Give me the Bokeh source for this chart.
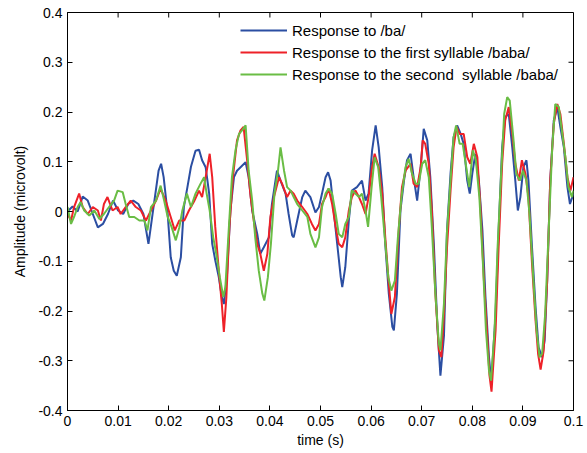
from bokeh.plotting import figure
from bokeh.models import (Range1d, FixedTicker, CustomJSTickFormatter,
                          Legend, LegendItem)
from bokeh.embed import file_html
from bokeh.resources import INLINE

# ---------------- data ----------------
x_ticks = [0, 0.01, 0.02, 0.03, 0.04, 0.05, 0.06, 0.07, 0.08, 0.09, 0.1]
y_ticks = [-0.4, -0.3, -0.2, -0.1, 0, 0.1, 0.2, 0.3, 0.4]
x_lim = (0, 0.1)
y_lim = (-0.4, 0.4)

series_names = ["Response to /ba/",
                "Response to the first syllable /baba/",
                "Response to the second  syllable /baba/"]

t_ba = [0, 0.001, 0.002, 0.003, 0.004, 0.005, 0.006, 0.007, 0.008, 0.009, 0.010,
        0.011, 0.012, 0.013, 0.014, 0.015, 0.016, 0.017, 0.018, 0.0185, 0.019,
        0.0198, 0.0204, 0.021, 0.0216, 0.0224, 0.023, 0.0237, 0.0244, 0.0253,
        0.026, 0.0266, 0.0273, 0.028, 0.0286, 0.0292, 0.0299, 0.0305, 0.0309,
        0.0315, 0.0322, 0.0329, 0.0335, 0.0342, 0.0352, 0.0358, 0.0365, 0.0375,
        0.0381, 0.0388, 0.0398, 0.0404, 0.0414, 0.0421, 0.0431, 0.0437, 0.0444,
        0.0447, 0.0454, 0.0464, 0.047, 0.048, 0.049, 0.0497, 0.0503, 0.051,
        0.0515, 0.052, 0.0526, 0.0533, 0.054, 0.0543, 0.0549, 0.0556, 0.0562,
        0.0572, 0.0582, 0.0589, 0.0595, 0.0602, 0.0609, 0.0615, 0.0622, 0.0628,
        0.0635, 0.0642, 0.0645, 0.0651, 0.0658, 0.0665, 0.0671, 0.0678, 0.0684,
        0.0691, 0.0698, 0.0704, 0.0711, 0.0717, 0.0724, 0.0731, 0.0737, 0.0744,
        0.075, 0.0757, 0.0763, 0.077, 0.0777, 0.0783, 0.079, 0.0795, 0.08,
        0.0806, 0.0813, 0.082, 0.0826, 0.0833, 0.0836, 0.0839, 0.0846, 0.0852,
        0.0859, 0.0865, 0.0872, 0.0879, 0.0885, 0.089, 0.0895, 0.0901, 0.0907,
        0.0911, 0.0918, 0.0925, 0.0931, 0.0938, 0.0943, 0.0948, 0.0954, 0.0961,
        0.0968, 0.0974, 0.0981, 0.0988, 0.0993, 0.1]
v_ba = [0.0, 0.01, 0.0, 0.03, 0.022, -0.005, -0.032, -0.025, -0.005, 0.022, 0.002,
        -0.005, 0.015, 0.022, 0.015, -0.005, -0.065, 0.009, 0.082, 0.096, 0.069,
        -0.005, -0.092, -0.119, -0.129, -0.092, 0.009, 0.049, 0.09, 0.122,
        0.124, 0.103, 0.089, 0.036, -0.065, -0.098, -0.132, -0.172, -0.186,
        -0.132, 0.002, 0.069, 0.082, 0.089, 0.099, 0.069, 0.002, -0.045,
        -0.085, -0.072, -0.052, 0.015, 0.082, 0.062, 0.036, -0.005, -0.048,
        -0.052, -0.018, 0.029, 0.042, 0.029, -0.002, 0.009, 0.036, 0.069,
        0.079, 0.062, 0.002, -0.065, -0.132, -0.152, -0.112, -0.018, 0.042,
        0.049, 0.062, 0.022, 0.036, 0.123, 0.173, 0.129, 0.049, -0.065,
        -0.165, -0.232, -0.239, -0.165, 0.002, 0.062, 0.103, 0.116, 0.069,
        0.022, 0.089, 0.166, 0.143, 0.069, -0.065, -0.232, -0.33, -0.25,
        -0.038, 0.076, 0.149, 0.173, 0.156, 0.136, 0.062, 0.036, 0.076,
        0.116, 0.062, -0.038, -0.172, -0.293, -0.326, -0.32, -0.206, -0.038,
        0.129, 0.19, 0.196, 0.129, 0.062, 0.002, 0.029, 0.089, 0.103,
        0.062, -0.072, -0.192, -0.273, -0.293, -0.259, -0.139, 0.062, 0.183,
        0.21, 0.17, 0.129, 0.049, 0.015, 0.036]

t_first = [0, 0.0007, 0.0013, 0.0023, 0.003, 0.004, 0.005, 0.006, 0.0066, 0.0072,
           0.0079, 0.0089, 0.0099, 0.0105, 0.0115, 0.0125, 0.0135, 0.0145, 0.0155,
           0.0165, 0.0175, 0.0184, 0.0194, 0.0204, 0.0212, 0.0221, 0.0231, 0.024,
           0.025, 0.026, 0.0266, 0.0273, 0.0281, 0.0286, 0.0292, 0.0299, 0.0305,
           0.0309, 0.0314, 0.032, 0.0327, 0.0335, 0.0342, 0.0348, 0.0355, 0.0362,
           0.0368, 0.0375, 0.0381, 0.0388, 0.0395, 0.0401, 0.0408, 0.0418, 0.0424,
           0.0434, 0.0441, 0.0447, 0.0454, 0.0464, 0.0474, 0.0483, 0.049, 0.0497,
           0.0503, 0.051, 0.0516, 0.0523, 0.053, 0.0536, 0.0543, 0.0549, 0.0556,
           0.0562, 0.0569, 0.0576, 0.0582, 0.0589, 0.0595, 0.0602, 0.0607, 0.0615,
           0.0622, 0.0628, 0.0635, 0.064, 0.0647, 0.0655, 0.0661, 0.0668, 0.0678,
           0.0684, 0.0691, 0.0698, 0.0702, 0.0707, 0.0714, 0.072, 0.0727, 0.0734,
           0.0739, 0.0744, 0.075, 0.0757, 0.0763, 0.0769, 0.0775, 0.0783, 0.079,
           0.0796, 0.0803, 0.081, 0.0816, 0.0823, 0.083, 0.0834, 0.0838, 0.0842,
           0.0846, 0.0852, 0.0859, 0.0865, 0.0872, 0.0879, 0.0885, 0.0892, 0.0898,
           0.0905, 0.0911, 0.0918, 0.0925, 0.093, 0.0935, 0.0941, 0.0948, 0.0954,
           0.0961, 0.0968, 0.0974, 0.0981, 0.0988, 0.0994, 0.1]
v_first = [-0.005, -0.018, 0.009, 0.036, 0.009, -0.005, 0.009, 0.002, -0.018, 0.015,
           0.029, 0.002, 0.009, -0.005, 0.009, 0.022, 0.009, 0.002, -0.018,
           0.002, 0.022, 0.046, 0.022, -0.011, -0.038, -0.018, -0.018, 0.002,
           0.02, 0.042, 0.029, 0.069, 0.116, 0.069, -0.031, -0.119, -0.186,
           -0.242, -0.172, -0.031, 0.069, 0.143, 0.163, 0.17, 0.103, 0.029,
           -0.018, -0.065, -0.085, -0.119, -0.085, -0.011, 0.029, 0.069, 0.056,
           0.029, 0.042, 0.036, 0.022, 0.009, -0.005, -0.025, -0.038, -0.025,
           0.015, 0.029, 0.046, 0.015, -0.031, -0.065, -0.072, -0.052, 0.002,
           0.029, 0.042, 0.029, 0.015, -0.005, 0.029, 0.089, 0.116, 0.089,
           0.036, -0.052, -0.145, -0.206, -0.172, -0.031, 0.049, 0.082, 0.096,
           0.056, 0.049, 0.089, 0.143, 0.136, 0.096, 0.002, -0.165, -0.279,
           -0.293, -0.206, -0.072, 0.042, 0.129, 0.17, 0.156, 0.156, 0.109,
           0.096, 0.136, 0.109, 0.009, -0.139, -0.259, -0.33, -0.362, -0.3,
           -0.239, -0.072, 0.096, 0.183, 0.21, 0.156, 0.096, 0.062, 0.103,
           0.076, 0.029, -0.105, -0.219, -0.286, -0.318, -0.28, -0.139, 0.062,
           0.176, 0.216, 0.196, 0.136, 0.069, 0.042, 0.069]

t_second = [0, 0.0007, 0.0013, 0.002, 0.0026, 0.0033, 0.0043, 0.0053, 0.0063, 0.0072,
            0.0082, 0.0092, 0.0099, 0.0109, 0.0115, 0.0122, 0.0132, 0.0142, 0.0152,
            0.0158, 0.0165, 0.0175, 0.0184, 0.0191, 0.0198, 0.0206, 0.0214, 0.0221,
            0.0227, 0.0236, 0.0244, 0.0253, 0.0263, 0.027, 0.0275, 0.0281, 0.0288,
            0.0294, 0.0301, 0.0308, 0.0312, 0.0319, 0.0325, 0.0332, 0.0339, 0.0345,
            0.0352, 0.0358, 0.0365, 0.0371, 0.0378, 0.0385, 0.0389, 0.0396, 0.0402,
            0.0409, 0.0416, 0.0421, 0.0428, 0.0434, 0.0441, 0.0447, 0.0454, 0.0464,
            0.0474, 0.048, 0.049, 0.0497, 0.0503, 0.051, 0.0516, 0.0523, 0.053,
            0.0536, 0.0543, 0.0549, 0.0556, 0.0562, 0.0569, 0.0576, 0.0582, 0.0589,
            0.0594, 0.0601, 0.0607, 0.0614, 0.062, 0.0627, 0.0634, 0.064, 0.0647,
            0.0653, 0.066, 0.0668, 0.0674, 0.0681, 0.0688, 0.0694, 0.0701, 0.0707,
            0.0714, 0.072, 0.0727, 0.0734, 0.0737, 0.0744, 0.075, 0.0757, 0.0763,
            0.0768, 0.0775, 0.0781, 0.0788, 0.0794, 0.0801, 0.0807, 0.0814, 0.0821,
            0.0827, 0.0833, 0.0837, 0.0844, 0.085, 0.0857, 0.0863, 0.0869, 0.0874,
            0.0881, 0.0887, 0.0894, 0.09, 0.0907, 0.0913, 0.092, 0.0927, 0.0933,
            0.0938, 0.0944, 0.0951, 0.0958, 0.0964, 0.0971, 0.0977, 0.0984, 0.099,
            0.0997, 0.1]
v_second = [0.009, -0.025, -0.011, 0.009, 0.019, 0.002, -0.008, 0.002, -0.015, -0.005,
            0.009, 0.022, 0.042, 0.039, 0.015, -0.011, -0.011, -0.018, -0.018,
            -0.038, 0.009, 0.022, 0.052, 0.022, -0.011, -0.032, -0.058, -0.032,
            0.002, 0.036, 0.009, 0.036, 0.056, 0.069, 0.036, 0.002, -0.052,
            -0.085, -0.132, -0.172, -0.152, -0.031, 0.069, 0.123, 0.156, 0.163,
            0.173, 0.082, 0.022, -0.052, -0.119, -0.165, -0.179, -0.132, -0.065,
            0.036, 0.082, 0.129, 0.082, 0.049, 0.042, 0.029, 0.015, 0.002,
            -0.011, -0.045, -0.072, -0.052, 0.009, 0.036, 0.046, 0.036, -0.005,
            -0.045, -0.052, -0.025, -0.011, 0.042, 0.036, 0.029, 0.036, 0.002,
            -0.031, 0.049, 0.109, 0.089, 0.029, -0.052, -0.132, -0.159, -0.139,
            -0.052, 0.029, 0.089, 0.106, 0.076, 0.056, 0.056, 0.096, 0.103,
            0.069, -0.031, -0.165, -0.266, -0.279, -0.185, -0.04, 0.062, 0.149,
            0.173, 0.136, 0.136, 0.089, 0.049, 0.123, 0.103, 0.029, -0.105,
            -0.239, -0.32, -0.34, -0.239, -0.072, 0.076, 0.196, 0.23, 0.223,
            0.149, 0.076, 0.062, 0.082, 0.062, -0.005, -0.125, -0.239, -0.293,
            -0.286, -0.206, -0.038, 0.129, 0.216, 0.21, 0.163, 0.109, 0.049,
            0.029, 0.042]

colors = ["#2b4ea2", "#ee2128", "#6abd45"]

# ---------------- figure ----------------
FONT = "Liberation Sans"
W, H = 587, 453
BL, BR, BT, BB = 67, 14, 12, 43

p = figure(width=W, height=H, output_backend="svg", toolbar_location=None,
           x_range=Range1d(*x_lim), y_range=Range1d(*y_lim),
           min_border_left=BL, min_border_right=BR, min_border_top=BT,
           min_border_bottom=BB,
           x_axis_label="time (s)", y_axis_label="Amplitude (microvolt)")
p.background_fill_color = "white"
p.border_fill_color = "white"
p.outline_line_color = "black"
p.outline_line_width = 1
p.xgrid.visible = False
p.ygrid.visible = False

fmt = CustomJSTickFormatter(code="return String(Math.round(tick*100)/100);")

for ax, ticks in ((p.xaxis[0], x_ticks), (p.yaxis[0], y_ticks)):
    ax.ticker = FixedTicker(ticks=ticks)
    ax.formatter = fmt
    ax.major_tick_in = 5
    ax.major_tick_out = 0
    ax.minor_tick_line_color = None
    ax.axis_line_color = "black"
    ax.major_tick_line_color = "black"
    ax.major_label_text_font = FONT
    ax.major_label_text_font_size = "14px"
    ax.major_label_text_color = "black"
    ax.axis_label_text_font = FONT
    ax.axis_label_text_font_size = "14px"
    ax.axis_label_text_font_style = "normal"
    ax.axis_label_text_color = "black"
    ax.major_label_standoff = 5

p.xaxis[0].axis_label_standoff = 3
p.yaxis[0].axis_label_standoff = 7

# mirrored inward ticks on the top and right edges (5 px long)
frame_w = W - BL - BR
frame_h = H - BT - BB
dx = 5 * (x_lim[1] - x_lim[0]) / frame_w
dy = 5 * (y_lim[1] - y_lim[0]) / frame_h
p.segment(x0=x_ticks, x1=x_ticks, y0=[y_lim[1]] * len(x_ticks),
          y1=[y_lim[1] - dy] * len(x_ticks), line_color="black", line_width=1)
p.segment(x0=[x_lim[1]] * len(y_ticks), x1=[x_lim[1] - dx] * len(y_ticks),
          y0=y_ticks, y1=y_ticks, line_color="black", line_width=1)

renderers = []
for t, v, c in ((t_ba, v_ba, colors[0]), (t_first, v_first, colors[1]),
                (t_second, v_second, colors[2])):
    renderers.append(p.line(t, v, line_color=c, line_width=2))

legend = Legend(items=[LegendItem(label=n, renderers=[r])
                       for n, r in zip(series_names, renderers)],
                location=(173, 325), glyph_width=47, glyph_height=22,
                label_height=22, spacing=0, padding=3, label_standoff=5,
                margin=0, border_line_color=None, background_fill_color="white",
                background_fill_alpha=1.0,
                label_text_font=FONT, label_text_font_size="15px",
                label_text_color="black")
p.add_layout(legend)

open("out.html", "w").write(file_html(p, INLINE))
